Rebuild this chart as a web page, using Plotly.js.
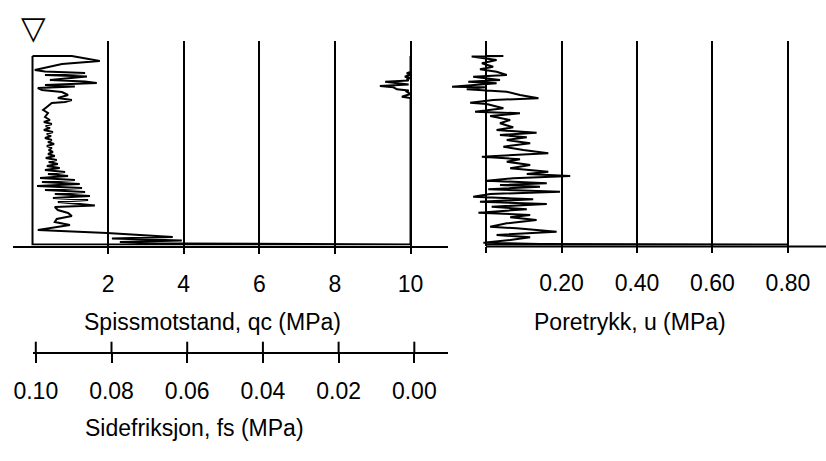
<!DOCTYPE html>
<html>
<head>
<meta charset="utf-8">
<script src="https://cdn.plot.ly/plotly-3.0.1.min.js"></script>
<style>html,body{margin:0;padding:0;background:#fff;}#chart{width:826px;height:461px;}</style>
</head>
<body>
<div id="chart"></div>
<script>
// ---- data ----
// depth in m (positive downwards), values in MPa
const qcDepth = [0, 0, 0.5, 0.8, 1.4, 1.55, 1.7, 1.9, 2.05, 2.4, 2.55, 2.7, 2.9, 3.05, 3.2, 3.4, 3.6, 3.9, 4.2, 4.4, 4.6, 4.7, 5.1, 5.4, 5.7, 6.1, 6.4, 6.6, 6.8, 7.0, 7.2, 7.4, 7.6, 7.8, 8.0, 8.2, 8.4, 8.6, 8.8, 9.0, 9.2, 9.4, 9.6, 9.8, 10.0, 10.2, 10.4, 10.6, 10.8, 11.0, 11.2, 11.4, 11.6, 11.8, 12.0, 12.2, 12.4, 12.6, 12.8, 13.0, 13.2, 13.4, 13.6, 13.8, 14.0, 14.2, 14.4, 14.6, 14.8, 14.95, 15.1, 15.4, 15.7, 16.0, 16.3, 16.6, 16.9, 17.2, 17.4, 17.7, 18.1, 18.25, 18.45, 18.6, 18.75, 18.85, 18.85, 0];
const qcValues = [0, 1.04, 1.78, 0.78, 0.06, 0.33, 1.39, 0.33, 1.44, 0.46, 1.39, 1.70, 0.33, 1.12, 0.14, 0.25, 0.78, 0.94, 0.67, 1.04, 0.86, 0.51, 0.38, 0.28, 0.41, 0.33, 0.46, 0.30, 0.51, 0.35, 0.46, 0.30, 0.54, 0.38, 0.49, 0.33, 0.51, 0.41, 0.57, 0.38, 0.51, 0.43, 0.54, 0.41, 0.59, 0.35, 0.64, 0.43, 0.67, 0.38, 0.72, 0.33, 0.86, 0.41, 0.94, 0.20, 1.12, 0.25, 1.25, 0.12, 1.31, 0.33, 1.39, 0.59, 1.52, 0.54, 1.47, 0.67, 1.25, 1.65, 0.59, 0.67, 0.94, 1.04, 0.64, 0.59, 0.99, 0.41, 0.14, 1.97, 3.71, 2.10, 3.95, 2.31, 3.90, 10, 0, 0];

const fsDepth = [0, 1.6, 1.73, 1.85, 2.07, 2.2, 2.3, 2.45, 2.57, 2.7, 2.85, 3.0, 3.13, 3.33, 3.45, 3.57, 3.8, 4.07, 4.2, 18.85];
const fsValues = [0.001, 0.001, 0.002, 0.001, 0.0025, 0.001, 0.002, 0.0015, 0.0077, 0.0042, 0.0015, 0.0091, 0.0055, 0.0046, 0.0015, 0.002, 0.001, 0.0033, 0.001, 0.001];

const uDepth = [0, 0, 0.05, 0.4, 0.73, 1.07, 1.33, 1.57, 1.9, 2.07, 2.4, 2.57, 2.73, 3.07, 3.13, 3.33, 3.57, 3.9, 4.23, 4.4, 4.67, 4.8, 5.23, 5.57, 5.73, 6.0, 6.4, 6.73, 7.13, 7.4, 7.67, 7.9, 8.13, 8.4, 8.73, 9.07, 9.4, 9.73, 9.9, 10.07, 10.33, 10.57, 10.9, 11.23, 11.57, 11.8, 12.0, 12.23, 12.47, 12.73, 12.9, 13.07, 13.33, 13.57, 13.8, 14.07, 14.33, 14.57, 14.8, 15.07, 15.33, 15.67, 15.9, 16.13, 16.4, 16.73, 17.07, 17.23, 17.57, 17.9, 18.13, 18.4, 18.67, 18.8, 18.85, 18.85, 0];
const uValues = [0, 0.046, -0.038, 0.028, -0.011, 0.019, -0.016, 0.028, 0.055, -0.034, 0.037, -0.047, 0.028, -0.090, -0.003, -0.051, 0.055, 0.090, 0.139, 0.019, -0.042, 0.002, 0.046, -0.029, 0.090, 0.011, 0.064, 0.037, 0.072, 0.028, 0.134, 0.037, 0.108, 0.055, 0.117, 0.046, 0.099, 0.165, 0.064, -0.011, 0.090, 0.055, 0.117, 0.064, 0.165, 0.108, 0.223, 0.072, 0.002, 0.161, 0.037, 0.143, 0.006, 0.196, 0.011, -0.034, 0.125, -0.016, 0.161, 0.015, 0.108, -0.020, 0.117, 0.064, 0.134, 0.055, 0.011, 0.081, 0.187, 0.028, 0.117, 0.064, -0.007, 0.143, 0.8, 0, 0];

const qcTicks = [2, 4, 6, 8, 10];
const qcTickText = ['2', '4', '6', '8', '10'];
const uTicks = [0, 0.2, 0.4, 0.6, 0.8];
const uTickText = ['', '0.20', '0.40', '0.60', '0.80'];
const fsTicks = [0.10, 0.08, 0.06, 0.04, 0.02, 0.00];
const fsTickText = ['0.10', '0.08', '0.06', '0.04', '0.02', '0.00'];

const qcTitle = 'Spissmotstand, qc (MPa)';
const uTitle = 'Poretrykk, u (MPa)';
const fsTitle = 'Sidefriksjon, fs (MPa)';
const waterMark = '\u25BD';

// ---- layout helpers ----
const W = 826, H = 461;
const px = x => x / W;
const py = y => (H - y) / H;
const FONT = '"Liberation Sans", Arial, sans-serif';
const tickFont = {family: FONT, size: 23, color: '#000'};

const lineStyle = {color: '#000', width: 2};
const traces = [
  {x: qcValues, y: qcDepth, xaxis: 'x', yaxis: 'y', mode: 'lines', line: lineStyle, hoverinfo: 'skip', showlegend: false},
  {x: fsValues, y: fsDepth, xaxis: 'x3', yaxis: 'y', mode: 'lines', line: lineStyle, hoverinfo: 'skip', showlegend: false},
  {x: uValues, y: uDepth, xaxis: 'x2', yaxis: 'y', mode: 'lines', line: lineStyle, hoverinfo: 'skip', showlegend: false}
];

const axisCommon = {
  showgrid: true, gridcolor: '#000', gridwidth: 2, zeroline: false,
  ticks: 'outside', ticklen: 6, tickwidth: 2, tickcolor: '#000',
  tickfont: tickFont, tickmode: 'array', ticklabelstandoff: 11, fixedrange: true
};

const fsPos = py(352.7);
const shapes = [
  {type: 'line', xref: 'x2', yref: 'paper', x0: 0, x1: 0.9007, y0: py(246.5), y1: py(246.5), line: {color: '#000', width: 2}}
];
fsTicks.forEach(v => shapes.push({
  type: 'line', xref: 'x3', x0: v, x1: v, yref: 'paper', ysizemode: 'pixel', yanchor: fsPos, y0: 0, y1: 11,
  line: {color: '#000', width: 2}
}));

const annFont = {family: FONT, size: 23, color: '#000'};
const layout = {
  width: W, height: H,
  margin: {l: 0, r: 0, t: 0, b: 0, pad: 0},
  paper_bgcolor: '#fff', plot_bgcolor: 'rgba(0,0,0,0)',
  showlegend: false,
  xaxis: Object.assign({}, axisCommon, {
    domain: [px(13), px(448)], range: [-0.516, 10.99], anchor: 'y',
    tickvals: qcTicks, ticktext: qcTickText,
    showline: true, linecolor: '#000', linewidth: 2
  }),
  xaxis2: Object.assign({}, axisCommon, {
    domain: [px(450), 1], range: [-0.0954, 0.9007], anchor: 'y',
    tickvals: uTicks, ticktext: uTickText, showline: false
  }),
  xaxis3: Object.assign({}, axisCommon, {
    domain: [px(33), px(448)], range: [0.10074, -0.0089], anchor: 'free', position: fsPos,
    tickvals: fsTicks, ticktext: fsTickText, showgrid: false, ticklen: 9,
    showline: true, linecolor: '#000', linewidth: 2, ticklabelstandoff: 9
  }),
  yaxis: {domain: [py(245.5), py(41)], range: [18.95, -1.5], visible: false, showgrid: false, zeroline: false, fixedrange: true},
  shapes: shapes,
  annotations: [
    {text: qcTitle, xref: 'paper', yref: 'paper', x: px(212), y: py(322), xanchor: 'center', yanchor: 'middle', showarrow: false, font: annFont},
    {text: uTitle, xref: 'paper', yref: 'paper', x: px(630), y: py(322), xanchor: 'center', yanchor: 'middle', showarrow: false, font: annFont},
    {text: fsTitle, xref: 'paper', yref: 'paper', x: px(194), y: py(428), xanchor: 'center', yanchor: 'middle', showarrow: false, font: annFont},
    {text: waterMark, xref: 'paper', yref: 'paper', x: px(33), y: py(28), xanchor: 'center', yanchor: 'middle', showarrow: false, font: {family: 'DejaVu Sans', size: 32, color: '#000'}}
  ]
};

Plotly.newPlot('chart', traces, layout, {staticPlot: true, displayModeBar: false});
</script>
</body>
</html>
